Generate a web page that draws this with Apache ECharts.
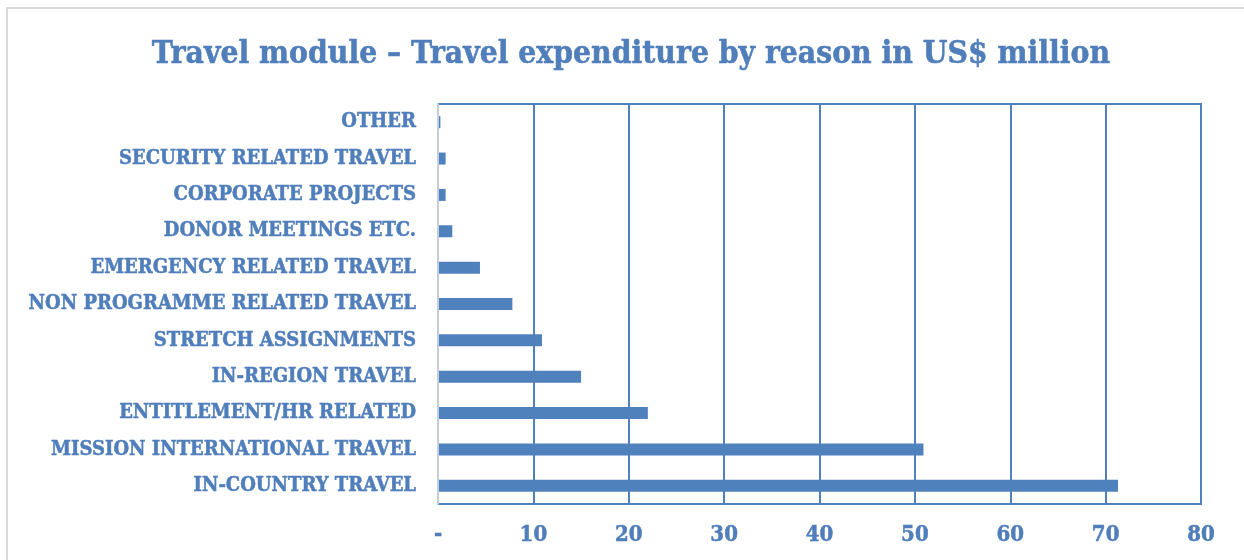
<!DOCTYPE html>
<html>
<head>
<meta charset="utf-8">
<script src="https://cdn.jsdelivr.net/npm/echarts@6/dist/echarts.min.js"></script>
<style>
  html, body { margin: 0; padding: 0; background: #ffffff; }
  #chart { width: 1244px; height: 560px; }
</style>
</head>
<body>
<div id="chart"></div>
<script>
// Travel expenditure by reason, US$ million (listed bottom to top)
const reasons = [
  'IN-COUNTRY TRAVEL',
  'MISSION INTERNATIONAL TRAVEL',
  'ENTITLEMENT/HR RELATED',
  'IN-REGION TRAVEL',
  'STRETCH ASSIGNMENTS',
  'NON PROGRAMME RELATED TRAVEL',
  'EMERGENCY RELATED TRAVEL',
  'DONOR MEETINGS ETC.',
  'CORPORATE PROJECTS',
  'SECURITY RELATED TRAVEL',
  'OTHER'
];
const expenditure = [71.3, 50.9, 22.0, 15.0, 10.9, 7.8, 4.4, 1.5, 0.8, 0.8, 0.25];
const axisMin = 0;
const axisMax = 80;
const axisStep = 10;

const blue = '#4F81BD';
const textBlue = '#4F7EBB';
const font = '"DejaVu Serif Condensed", "DejaVu Serif", serif';

const chart = echarts.init(document.getElementById('chart'), null, { renderer: 'canvas' });
chart.setOption({
  backgroundColor: '#ffffff',
  animation: false,
  title: {
    text: 'Travel module \u2013 Travel expenditure by reason in US$ million',
    left: 626,
    top: 34,
    textAlign: 'center',
    textStyle: {
      fontFamily: font,
      fontWeight: 'bold',
      fontSize: 31.5,
      color: textBlue,
      textBorderColor: textBlue,
      textBorderWidth: 0.5
    }
  },
  graphic: [{
    type: 'rect',
    shape: { x: 7, y: 8, width: 1260, height: 580 },
    style: { fill: 'none', stroke: '#d9d9d9', lineWidth: 2 },
    silent: true
  }],
  grid: {
    left: 438,
    right: 43,
    top: 104,
    bottom: 56,
    show: true,
    borderColor: blue,
    borderWidth: 2,
    backgroundColor: 'transparent'
  },
  xAxis: {
    type: 'value',
    min: axisMin,
    max: axisMax,
    interval: axisStep,
    axisLine: { show: true, lineStyle: { color: blue, width: 2 } },
    axisTick: { show: false },
    splitLine: { show: true, lineStyle: { color: blue, width: 2 } },
    axisLabel: {
      margin: 20,
      formatter: v => (v === 0 ? '-' : String(v)),
      fontFamily: font,
      fontWeight: 'bold',
      fontSize: 22,
      color: textBlue,
      textBorderColor: textBlue,
      textBorderWidth: 0.5
    }
  },
  yAxis: {
    type: 'category',
    data: reasons,
    axisLine: { show: true, lineStyle: { color: '#c3cddb', width: 2 } },
    axisTick: { show: false },
    splitLine: { show: false },
    z: 5,
    axisLabel: {
      margin: 22,
      fontFamily: font,
      fontWeight: 'bold',
      fontSize: 20,
      color: textBlue,
      textBorderColor: textBlue,
      textBorderWidth: 0.5
    }
  },
  series: [{
    type: 'bar',
    data: expenditure,
    barWidth: 12,
    itemStyle: { color: blue },
    z: 3
  }]
});
</script>
</body>
</html>
